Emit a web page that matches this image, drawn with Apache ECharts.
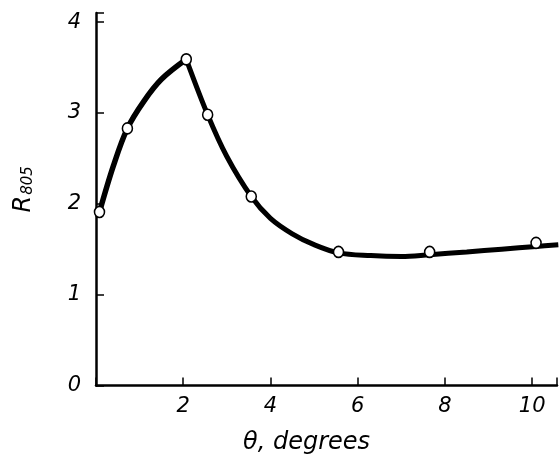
<!DOCTYPE html>
<html>
<head>
<meta charset="utf-8">
<script src="https://cdn.jsdelivr.net/npm/echarts@6/dist/echarts.min.js"></script>
<style>
  html, body { margin: 0; padding: 0; background: #fff; }
  #chart { width: 560px; height: 470px; }
</style>
</head>
<body>
<div id="chart"></div>
<script>
// Measured points (open circles)
var thetaPts = [0.08, 0.72, 2.07, 2.56, 3.56, 5.56, 7.65, 10.09];
var rPts     = [1.91, 2.83, 3.59, 2.98, 2.08, 1.47, 1.47, 1.57];

// Fitted curve: rising branch up to the peak, falling branch after it
var riseTheta = [0.08, 0.40, 0.72, 1.10, 1.50, 2.07];
var riseR     = [1.91, 2.42, 2.83, 3.13, 3.37, 3.59];
var fallTheta = [2.07, 2.56, 3.00, 3.56, 4.00, 4.50, 5.00, 5.56, 6.30, 7.00, 7.65, 8.50, 9.30, 10.09, 10.60];
var fallR     = [3.59, 2.98, 2.52, 2.08, 1.84, 1.67, 1.55, 1.46, 1.43, 1.42, 1.44, 1.47, 1.50, 1.53, 1.55];

var yTicks = [0, 1, 2, 3, 4];
var xTicks = [2, 4, 6, 8, 10];

function pairs(xs, ys) {
  return xs.map(function (x, i) { return [x, ys[i]]; });
}

var chart = echarts.init(document.getElementById('chart'));
chart.setOption({
  animation: false,
  backgroundColor: '#fff',
  grid: { left: 96, right: 0, top: 13, bottom: 84.5 },
  xAxis: {
    type: 'value', min: 0, max: 10.57, interval: 2,
    axisLine: { lineStyle: { color: '#000', width: 2.5 } },
    axisTick: { inside: true, length: 8, lineStyle: { color: '#000', width: 1.5 } },
    splitLine: { show: false },
    axisLabel: {
      color: '#000', fontFamily: 'DejaVu Sans', fontStyle: 'italic', fontSize: 21, margin: 11,
      formatter: function (v) { return xTicks.indexOf(v) >= 0 ? String(v) : ''; }
    },
    name: 'θ, degrees', nameLocation: 'middle', nameGap: 45,
    nameTextStyle: { color: '#000', fontFamily: 'DejaVu Sans', fontStyle: 'italic', fontSize: 24,
                     padding: [0, 40, 0, 0] }
  },
  yAxis: {
    type: 'value', min: 0, max: 4.1, interval: 1,
    axisLine: { show: true, lineStyle: { color: '#000', width: 2.5 } },
    axisTick: { show: true, inside: true, length: 8, lineStyle: { color: '#000', width: 1.5 } },
    splitLine: { show: false },
    axisLabel: {
      color: '#000', fontFamily: 'DejaVu Sans', fontStyle: 'italic', fontSize: 21, margin: 15,
      formatter: function (v) { return yTicks.indexOf(v) >= 0 ? String(v) : ''; }
    },
    name: '{r|R}{s|805}', nameLocation: 'middle', nameGap: 60, nameRotate: 90,
    nameTextStyle: {
      padding: [0, 0, 0, 20],
      rich: {
        r: { fontFamily: 'DejaVu Sans', fontStyle: 'italic', fontSize: 24, color: '#000' },
        s: { fontFamily: 'DejaVu Sans', fontStyle: 'italic', fontSize: 15, color: '#000',
             padding: [10, 0, 0, 1] }
      }
    }
  },
  series: [
    {
      type: 'line', data: pairs(riseTheta, riseR), smooth: 0.35,
      symbol: 'none', lineStyle: { color: '#000', width: 5.5 }, z: 2
    },
    {
      type: 'line', data: pairs(fallTheta, fallR), smooth: 0.35,
      symbol: 'none', lineStyle: { color: '#000', width: 5 }, z: 2
    },
    {
      type: 'scatter', data: pairs(thetaPts, rPts), symbol: 'circle', symbolSize: [10, 11],
      itemStyle: { color: '#fff', borderColor: '#000', borderWidth: 1.6, opacity: 1 }, z: 5
    }
  ]
});
</script>
</body>
</html>
